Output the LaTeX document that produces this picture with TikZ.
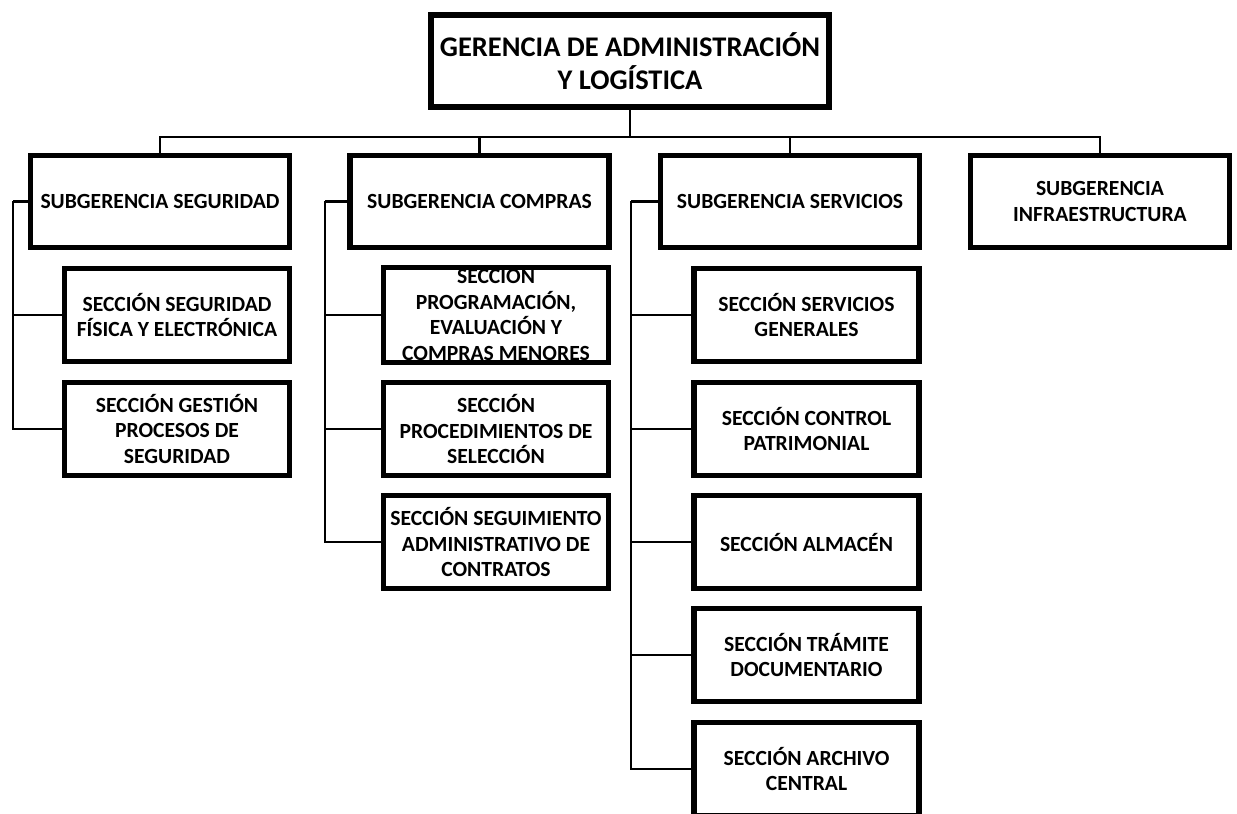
\documentclass[tikz,border=0pt]{standalone}
\usepackage{fontspec}
\setmainfont{Carlito}
\usetikzlibrary{shadows}

\tikzset{
    caja/.style={draw, line width=3pt, fill=white, align=center,
        drop shadow={shadow xshift=1pt, shadow yshift=-1pt, opacity=0.3}},
    jefe/.style={caja, minimum width=7.96cm, minimum height=1.84cm,
        font=\fontsize{16.2}{18.4}\selectfont\bfseries},
    subg/.style={caja, minimum width=5.18cm, minimum height=1.84cm,
        font=\fontsize{12.3}{14.6}\selectfont\bfseries},
    secc/.style={caja, minimum width=4.5cm, minimum height=1.86cm, inner sep=1pt,
        font=\fontsize{12.3}{14.6}\selectfont\bfseries},
    linea/.style={line width=1.5pt}
}
\newcommand{\gerencia}[3]{
    \node[jefe] (#1) at (#2) {#3};
}
\newcommand{\subgerencia}[3]{
    \node[subg] (#1) at (#2) {#3};
}
\newcommand{\seccion}[3]{
    \node[secc] (#1) at (#2) {#3};
}

\begin{document}
\begin{tikzpicture}[x=0.02cm, y=-0.02cm]
    \clip (0, 0) rectangle (1237, 814);
    \gerencia{ger}{630, 61}{GERENCIA DE ADMINISTRACIÓN\\Y LOGÍSTICA}
    \subgerencia{seg}{160, 201.5}{SUBGERENCIA SEGURIDAD}
    \subgerencia{com}{479.5, 201.5}{SUBGERENCIA COMPRAS}
    \subgerencia{ser}{790, 201.5}{SUBGERENCIA SERVICIOS}
    \subgerencia{inf}{1100, 201.5}{SUBGERENCIA\\INFRAESTRUCTURA}
    % seguridad
    \seccion{segfis}{177, 315}{SECCIÓN SEGURIDAD\\FÍSICA Y ELECTRÓNICA}
    \seccion{segpro}{177, 429}{SECCIÓN GESTIÓN\\PROCESOS DE\\SEGURIDAD}
    % compras
    \seccion{comprog}{496, 315}{SECCION\\PROGRAMACIÓN,\\EVALUACIÓN Y\\COMPRAS MENORES}
    \seccion{comsel}{496, 429}{SECCIÓN\\PROCEDIMIENTOS DE\\SELECCIÓN}
    \seccion{comcon}{496, 542}{SECCIÓN SEGUIMIENTO\\ADMINISTRATIVO DE\\CONTRATOS}
    % servicios
    \seccion{sergen}{806.5, 315}{SECCIÓN SERVICIOS\\GENERALES}
    \seccion{serpat}{806.5, 429}{SECCIÓN CONTROL\\PATRIMONIAL}
    \seccion{seralm}{806.5, 542}{SECCIÓN ALMACÉN}
    \seccion{sertra}{806.5, 655}{SECCIÓN TRÁMITE\\DOCUMENTARIO}
    \seccion{serarc}{806.5, 769}{SECCIÓN ARCHIVO\\CENTRAL}
    \coordinate (bus) at (630, 137);
    \coordinate (rseg) at (13, 201.5);
    \coordinate (rcom) at (325, 201.5);
    \coordinate (rser) at (631, 201.5);
    \draw[linea]
    (ger) -- (bus)
    (bus) -| (seg)
    (bus) -| (com)
    (bus) -| (ser)
    (bus) -| (inf)
    (seg) -- (rseg)
    (rseg) |- (segfis)
    (rseg) |- (segpro)
    (com) -- (rcom)
    (rcom) |- (comprog)
    (rcom) |- (comsel)
    (rcom) |- (comcon)
    (ser) -- (rser)
    (rser) |- (sergen)
    (rser) |- (serpat)
    (rser) |- (seralm)
    (rser) |- (sertra)
    (rser) |- (serarc);
\end{tikzpicture}
\end{document}
